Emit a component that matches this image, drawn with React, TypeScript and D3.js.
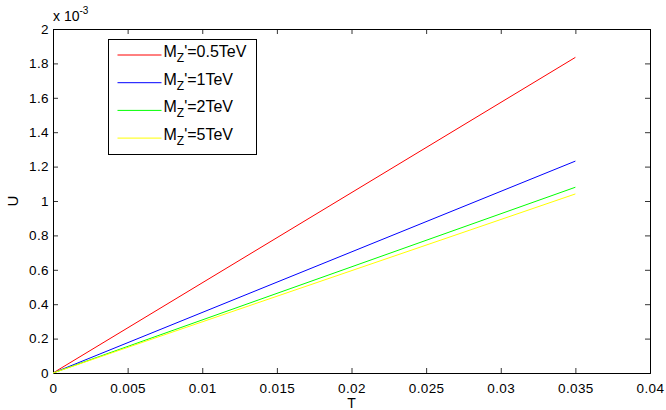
import * as d3 from "d3";
import { useEffect, useRef } from "react";

// data (U in absolute units, shown as x 10^-3)
const tValues = [0, 0.035];
const seriesNames = ["0.5TeV", "1TeV", "2TeV", "5TeV"];
const seriesColors = ["#ff0000", "#0000ff", "#00ff00", "#ffff00"];
const u05 = [0, 1.835e-3];
const u1 = [0, 1.232e-3];
const u2 = [0, 1.08e-3];
const u5 = [0, 1.041e-3];
const xTicks = [0, 0.005, 0.01, 0.015, 0.02, 0.025, 0.03, 0.035, 0.04];
const yTicks = [0, 0.2, 0.4, 0.6, 0.8, 1, 1.2, 1.4, 1.6, 1.8, 2];

const W = 666;
const H = 410;
const margin = { top: 29, right: 16, bottom: 37, left: 53 };
const FONT = "Liberation Sans, Arial, sans-serif";

const App = () => {
    const ref = useRef<SVGSVGElement>(null);

    useEffect(() => {
        const svg = d3.select(ref.current);
        svg.selectAll("*").remove();

        const iw = W - margin.left - margin.right;
        const ih = H - margin.top - margin.bottom;

        const x = d3.scaleLinear().domain([0, 0.04]).range([0, iw]);
        const y = d3.scaleLinear().domain([0, 2e-3]).range([ih, 0]);

        const g = svg.append("g").attr("transform", `translate(${margin.left},${margin.top})`);

        g.append("rect").attr("width", iw).attr("height", ih).attr("fill", "#fff");

        const fmtX = (d: d3.NumberValue) => String(+(+d).toFixed(3));
        const fmtY = (d: d3.NumberValue) => String(+(+d / 1e-3).toFixed(1));

        // axes, MATLAB style ticks pointing inward
        const bottom = g.append("g").attr("transform", `translate(0,${ih})`)
            .call(d3.axisBottom(x).tickValues(xTicks).tickSize(-5).tickPadding(10).tickFormat(fmtX));
        const top = g.append("g")
            .call(d3.axisTop(x).tickValues(xTicks).tickSize(-5).tickFormat(() => ""));
        const left = g.append("g")
            .call(d3.axisLeft(y).tickValues(yTicks.map(v => v * 1e-3)).tickSize(-5).tickPadding(4).tickFormat(fmtY));
        const right = g.append("g").attr("transform", `translate(${iw},0)`)
            .call(d3.axisRight(y).tickValues(yTicks.map(v => v * 1e-3)).tickSize(-5).tickFormat(() => ""));

        [bottom, top, left, right].forEach(a => {
            a.select(".domain").attr("stroke", "#000").attr("stroke-width", 1);
            a.selectAll(".tick line").attr("stroke", "#000").attr("stroke-width", 0.8);
            a.selectAll("text").attr("fill", "#000")
                .style("font-family", FONT)
                .style("font-size", "13.5px")
                .style("letter-spacing", "0.4px");
        });

        // lines
        const allSeries = [u05, u1, u2, u5];
        const line = d3.line<number>().x((_, i) => x(tValues[i])).y(d => y(d));
        allSeries.forEach((s, i) => {
            g.append("path")
                .attr("d", line(s))
                .attr("fill", "none")
                .attr("stroke", seriesColors[i])
                .attr("stroke-width", 1);
        });

        // exponent label
        const exp = svg.append("text")
            .attr("x", margin.left)
            .attr("y", 21)
            .style("font-family", FONT)
            .style("font-size", "14px");
        exp.append("tspan").text("x 10");
        exp.append("tspan").attr("dy", -7).style("font-size", "10px").text("-3");

        // axis labels
        svg.append("text")
            .attr("x", margin.left + iw / 2)
            .attr("y", 408)
            .attr("text-anchor", "middle")
            .style("font-family", FONT)
            .style("font-size", "14px")
            .text("T");
        svg.append("text")
            .attr("transform", `translate(18,${margin.top + ih / 2}) rotate(-90)`)
            .attr("text-anchor", "middle")
            .style("font-family", FONT)
            .style("font-size", "15px")
            .text("U");

        // legend
        const leg = svg.append("g").attr("transform", "translate(108.5,39.5)");
        leg.append("rect")
            .attr("width", 148)
            .attr("height", 115)
            .attr("fill", "#fff")
            .attr("stroke", "#000")
            .attr("stroke-width", 1);
        seriesNames.forEach((name, i) => {
            const yy = 15.5 + i * 27.7;
            leg.append("line")
                .attr("x1", 9).attr("x2", 53)
                .attr("y1", yy).attr("y2", yy)
                .attr("stroke", seriesColors[i])
                .attr("stroke-width", 1);
            const t = leg.append("text")
                .attr("x", 55)
                .attr("y", yy + 2)
                .style("font-family", FONT)
                .style("font-size", "16px");
            t.append("tspan").text("M");
            t.append("tspan").attr("dy", 5).style("font-size", "12px").text("Z");
            t.append("tspan").attr("dy", -5).text("'=" + name);
        });
    }, []);

    return (
        <svg ref={ref} width={W} height={H}
            style={{ position: "absolute", left: 0, top: 0, background: "#fff" }} />
    );
};

export default App;
